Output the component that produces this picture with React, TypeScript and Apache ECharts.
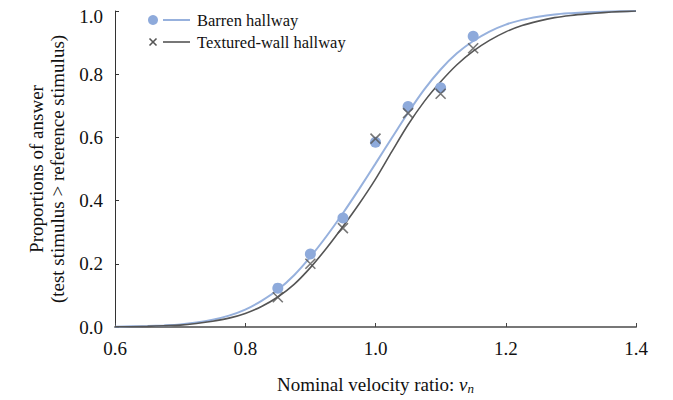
import React, { useEffect, useRef } from "react";
import * as echarts from "echarts";

const pointX = [0.85, 0.9, 0.95, 1.0, 1.05, 1.1, 1.15];
const barrenPoints = [0.123, 0.231, 0.345, 0.585, 0.698, 0.757, 0.92];
const texturedPoints = [0.094, 0.2, 0.313, 0.596, 0.677, 0.738, 0.882];

const curveX = [0.6, 0.625, 0.65, 0.675, 0.7, 0.725, 0.75, 0.775, 0.8, 0.825, 0.85, 0.875, 0.9, 0.925, 0.95, 0.975, 1.0, 1.025, 1.05, 1.075, 1.1, 1.125, 1.15, 1.175, 1.2, 1.225, 1.25, 1.275, 1.3, 1.325, 1.35, 1.375, 1.4];
const barrenCurve = [0.001, 0.002, 0.003, 0.005, 0.008, 0.014, 0.023, 0.036, 0.055, 0.083, 0.118, 0.164, 0.222, 0.288, 0.36, 0.437, 0.517, 0.598, 0.678, 0.752, 0.815, 0.866, 0.905, 0.935, 0.957, 0.972, 0.982, 0.989, 0.993, 0.996, 0.998, 0.999, 1.0];
const texturedCurve = [0.001, 0.001, 0.002, 0.004, 0.006, 0.011, 0.018, 0.028, 0.043, 0.065, 0.095, 0.135, 0.188, 0.25, 0.318, 0.39, 0.468, 0.555, 0.64, 0.714, 0.776, 0.83, 0.873, 0.907, 0.934, 0.954, 0.968, 0.979, 0.986, 0.991, 0.995, 0.998, 1.0];

const seriesNames = ["Barren hallway", "Textured-wall hallway"];

const BLUE = "#8eaadb";
const BLUE_LINE = "#97b1dd";
const GRAY = "#555555";
const FONT = "Liberation Serif";
const TXT = "#111111";

export default function App() {
  const ref = useRef<HTMLDivElement>(null);
  useEffect(() => {
    if (!ref.current) return;
    const chart = echarts.init(ref.current, null, { renderer: "svg" });
    const zip = (xs: number[], ys: number[]) => xs.map((x, i) => [x, ys[i]]);
    const legendFont = { fontFamily: FONT, fontSize: 16.5, fill: TXT, verticalAlign: "middle" as const, align: "left" as const };
    chart.setOption({
      animation: false,
      backgroundColor: "#ffffff",
      textStyle: { fontFamily: FONT },
      grid: { left: 115, right: 37, top: 11, bottom: 73, containLabel: false, outerBoundsMode: "none" },
      graphic: [
        { type: "circle", shape: { cx: 153, cy: 20, r: 5 }, style: { fill: BLUE } },
        { type: "line", shape: { x1: 163, y1: 20, x2: 190, y2: 20 }, style: { stroke: BLUE_LINE, lineWidth: 2 } },
        { type: "text", x: 197, y: 20, style: { ...legendFont, text: seriesNames[0] } },
        { type: "line", shape: { x1: 149.5, y1: 38.5, x2: 156.5, y2: 45.5 }, style: { stroke: GRAY, lineWidth: 1.6 } },
        { type: "line", shape: { x1: 156.5, y1: 38.5, x2: 149.5, y2: 45.5 }, style: { stroke: GRAY, lineWidth: 1.6 } },
        { type: "line", shape: { x1: 163, y1: 42, x2: 190, y2: 42 }, style: { stroke: GRAY, lineWidth: 1.6 } },
        { type: "text", x: 197, y: 42, style: { ...legendFont, text: seriesNames[1] } },
      ],
      xAxis: {
        type: "value",
        min: 0.6,
        max: 1.4,
        interval: 0.2,
        name: "Nominal velocity ratio: {i|v}{s|n}",
        nameLocation: "middle",
        nameGap: 46,
        nameTextStyle: {
          fontFamily: FONT,
          fontSize: 19,
          color: TXT,
          rich: {
            i: { fontFamily: FONT, fontStyle: "italic", fontSize: 19, color: TXT },
            s: { fontFamily: FONT, fontStyle: "italic", fontSize: 13, color: TXT, padding: [9, 0, 0, 0] },
          },
        },
        axisLine: { lineStyle: { color: "#777", width: 2 } },
        axisTick: { inside: true, length: 4, lineStyle: { color: "#444" } },
        axisLabel: {
          margin: 12,
          fontFamily: FONT,
          fontSize: 19,
          color: TXT,
          formatter: (v: number) => v.toFixed(1),
        },
        splitLine: { show: false },
      },
      yAxis: {
        type: "value",
        min: 0,
        max: 1,
        interval: 0.2,
        name: "Proportions of answer\n(test stimulus > reference stimulus)",
        nameLocation: "middle",
        nameGap: 46,
        nameTextStyle: { fontFamily: FONT, fontSize: 19, color: TXT, lineHeight: 21 },
        axisLine: { show: true, lineStyle: { color: "#333", width: 1 } },
        axisTick: { show: true, inside: true, length: 4, lineStyle: { color: "#333" } },
        axisLabel: {
          margin: 12,
          fontFamily: FONT,
          fontSize: 19,
          color: TXT,
          formatter: (v: number) => (v >= 0.999 ? "{top|" + v.toFixed(1) + "}" : v.toFixed(1)),
          rich: { top: { fontFamily: FONT, fontSize: 19, color: TXT, padding: [10, 0, 0, 0] } },
        },
        splitLine: { show: false },
      },
      series: [
        {
          name: seriesNames[0],
          type: "line",
          data: zip(curveX, barrenCurve),
          smooth: 0.3,
          showSymbol: false,
          lineStyle: { color: BLUE_LINE, width: 2 },
          itemStyle: { color: BLUE },
          z: 2,
        },
        {
          name: seriesNames[1],
          type: "line",
          data: zip(curveX, texturedCurve),
          smooth: 0.3,
          showSymbol: false,
          lineStyle: { color: GRAY, width: 1.6 },
          itemStyle: { color: GRAY },
          z: 2,
        },
        {
          name: "Barren points",
          type: "scatter",
          data: zip(pointX, barrenPoints),
          symbol: "circle",
          symbolSize: 11,
          itemStyle: { color: BLUE, opacity: 1 },
          z: 3,
        },
        {
          name: "Textured points",
          type: "scatter",
          data: zip(pointX, texturedPoints),
          symbol: "path://M0,0 L10,10 M10,0 L0,10",
          symbolSize: 10,
          itemStyle: { color: "none", borderColor: GRAY, borderWidth: 1.6 },
          z: 4,
        },
      ],
    });
    return () => chart.dispose();
  }, []);
  return <div ref={ref} style={{ position: "absolute", left: 0, top: 0, width: 673, height: 400 }} />;
}
